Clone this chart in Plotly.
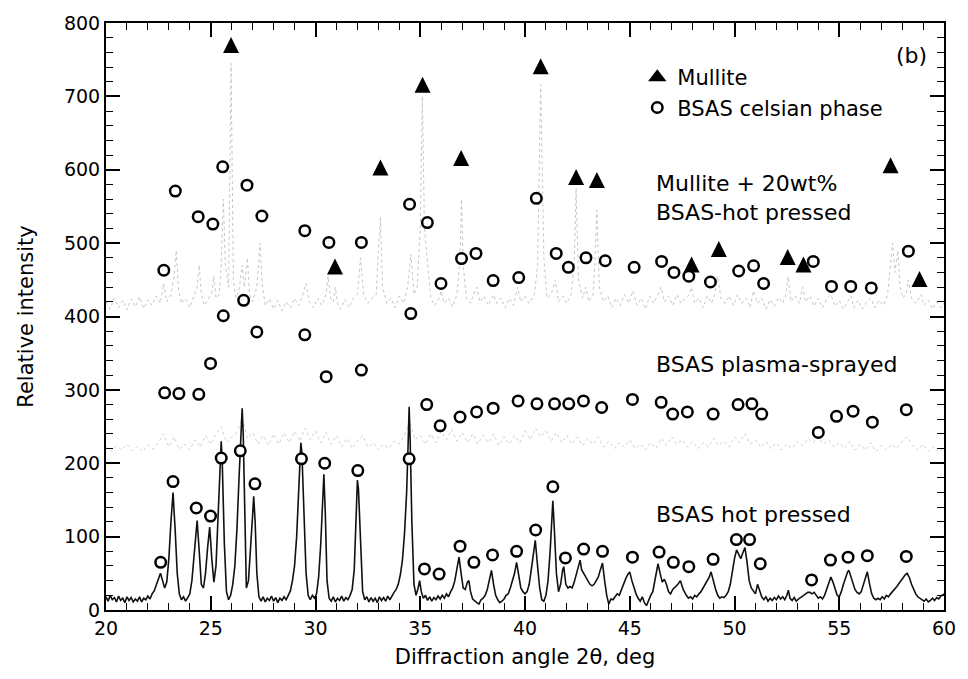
import plotly.graph_objects as go

FONT = "DejaVu Sans"

# --- XRD patterns: (2-theta [deg], relative intensity) -----------------------
# BSAS hot pressed (bottom trace)
hp_pattern = [
    (20.0, 18), (20.1, 12), (20.2, 20), (20.3, 14), (20.4, 17), (20.5, 11), (20.6, 19),
    (20.7, 13), (20.8, 16), (20.9, 10), (21.0, 18), (21.1, 13), (21.2, 17), (21.3, 11),
    (21.4, 15), (21.5, 12), (21.6, 18), (21.7, 11), (21.8, 16), (21.9, 14), (22.0, 19),
    (22.1, 15), (22.2, 22), (22.3, 26), (22.4, 34), (22.5, 42), (22.6, 50), (22.7, 40),
    (22.8, 30), (22.9, 38), (23.0, 70), (23.1, 120), (23.2, 160), (23.3, 110), (23.4, 50),
    (23.5, 22), (23.6, 14), (23.7, 18), (23.8, 12), (23.9, 17), (24.0, 22), (24.1, 40),
    (24.2, 75), (24.3, 110), (24.35, 122), (24.45, 80), (24.55, 35), (24.65, 30),
    (24.75, 50), (24.85, 85), (24.95, 113), (25.05, 70), (25.15, 38), (25.25, 60),
    (25.35, 120), (25.45, 190), (25.5, 230), (25.55, 200), (25.65, 90), (25.75, 25),
    (25.85, 14), (25.95, 20), (26.05, 35), (26.15, 60), (26.25, 110), (26.35, 180),
    (26.45, 250), (26.5, 275), (26.55, 240), (26.62, 120), (26.7, 30), (26.8, 40),
    (26.9, 80), (27.0, 130), (27.05, 155), (27.12, 120), (27.2, 50), (27.3, 18),
    (27.4, 12), (27.5, 18), (27.6, 11), (27.7, 16), (27.8, 13), (27.9, 19), (28.0, 12),
    (28.1, 17), (28.2, 10), (28.3, 16), (28.4, 13), (28.5, 18), (28.6, 14), (28.7, 20),
    (28.8, 26), (28.9, 40), (29.0, 60), (29.1, 100), (29.2, 160), (29.3, 228),
    (29.35, 215), (29.45, 130), (29.55, 50), (29.65, 20), (29.75, 14), (29.85, 20),
    (29.95, 16), (30.05, 22), (30.15, 45), (30.25, 90), (30.35, 160), (30.4, 185),
    (30.47, 130), (30.55, 40), (30.65, 16), (30.75, 12), (30.85, 18), (30.95, 11),
    (31.05, 16), (31.15, 13), (31.25, 19), (31.35, 12), (31.45, 17), (31.55, 14),
    (31.65, 20), (31.75, 28), (31.85, 55), (31.93, 110), (32.0, 177), (32.05, 165),
    (32.15, 80), (32.25, 25), (32.35, 14), (32.45, 18), (32.55, 11), (32.65, 17),
    (32.75, 12), (32.85, 16), (32.95, 10), (33.05, 18), (33.15, 13), (33.25, 17),
    (33.35, 12), (33.45, 19), (33.55, 14), (33.65, 20), (33.75, 24), (33.85, 28),
    (33.95, 35), (34.05, 48), (34.15, 68), (34.25, 105), (34.35, 160), (34.42, 225),
    (34.47, 277), (34.52, 230), (34.6, 120), (34.7, 35), (34.8, 20), (34.9, 30),
    (34.97, 40), (35.05, 25), (35.15, 16), (35.25, 20), (35.35, 13), (35.45, 18),
    (35.55, 12), (35.65, 17), (35.75, 14), (35.85, 19), (35.95, 15), (36.05, 20),
    (36.15, 16), (36.25, 22), (36.35, 18), (36.45, 25), (36.55, 30), (36.65, 40),
    (36.75, 55), (36.85, 72), (36.95, 50), (37.05, 30), (37.15, 28), (37.25, 38),
    (37.32, 40), (37.4, 25), (37.5, 15), (37.6, 12), (37.7, 10), (37.8, 8), (37.9, 14),
    (38.0, 16), (38.1, 20), (38.2, 28), (38.3, 40), (38.4, 54), (38.5, 35), (38.6, 20),
    (38.7, 14), (38.8, 10), (38.9, 12), (39.0, 15), (39.1, 20), (39.2, 22), (39.3, 30),
    (39.4, 40), (39.5, 50), (39.6, 65), (39.7, 45), (39.8, 30), (39.9, 25), (40.0, 22),
    (40.1, 25), (40.2, 35), (40.3, 55), (40.4, 75), (40.49, 95), (40.6, 60), (40.7, 30),
    (40.8, 14), (40.9, 12), (41.0, 20), (41.1, 40), (41.2, 80), (41.28, 130),
    (41.33, 149), (41.4, 110), (41.5, 50), (41.6, 25), (41.7, 35), (41.8, 55),
    (41.85, 59), (41.95, 35), (42.05, 30), (42.15, 32), (42.25, 30), (42.35, 38),
    (42.45, 50), (42.55, 60), (42.63, 68), (42.7, 55), (42.8, 50), (42.9, 45),
    (43.0, 40), (43.1, 35), (43.2, 33), (43.3, 35), (43.4, 40), (43.5, 45), (43.6, 55),
    (43.7, 64), (43.8, 40), (43.9, 20), (44.0, 8), (44.1, 15), (44.2, 14), (44.3, 18),
    (44.4, 22), (44.5, 20), (44.6, 28), (44.7, 35), (44.8, 42), (44.9, 48), (45.0, 52),
    (45.1, 40), (45.2, 30), (45.3, 22), (45.4, 16), (45.5, 12), (45.6, 18), (45.7, 10),
    (45.8, 6), (45.9, 14), (46.0, 20), (46.1, 25), (46.2, 40), (46.3, 55), (46.35, 63),
    (46.45, 50), (46.55, 38), (46.65, 42), (46.75, 35), (46.85, 25), (46.95, 22),
    (47.05, 28), (47.2, 32), (47.3, 35), (47.42, 40), (47.55, 28), (47.7, 20),
    (47.8, 16), (47.9, 18), (48.0, 15), (48.1, 20), (48.2, 18), (48.3, 22), (48.4, 25),
    (48.5, 30), (48.6, 35), (48.7, 40), (48.8, 45), (48.88, 52), (49.0, 38), (49.1, 28),
    (49.2, 20), (49.3, 16), (49.4, 18), (49.5, 17), (49.6, 20), (49.7, 25), (49.8, 35),
    (49.9, 55), (50.0, 70), (50.1, 82), (50.2, 75), (50.3, 70), (50.4, 78), (50.5, 85),
    (50.6, 65), (50.7, 40), (50.8, 30), (50.9, 25), (51.0, 22), (51.1, 35), (51.2, 25),
    (51.3, 18), (51.4, 14), (51.5, 18), (51.6, 12), (51.7, 16), (51.8, 13), (51.9, 17),
    (52.0, 14), (52.1, 19), (52.2, 15), (52.3, 18), (52.4, 14), (52.5, 20), (52.57, 27),
    (52.65, 16), (52.75, 13), (52.85, 17), (52.95, 12), (53.05, 15), (53.2, 18),
    (53.3, 20), (53.4, 22), (53.5, 24), (53.6, 24), (53.7, 22), (53.8, 24), (53.9, 20),
    (54.0, 16), (54.1, 18), (54.2, 15), (54.3, 20), (54.4, 28), (54.5, 38), (54.6, 45),
    (54.7, 38), (54.8, 28), (54.9, 20), (55.0, 18), (55.1, 25), (55.2, 35), (55.3, 45),
    (55.4, 52), (55.46, 54), (55.55, 45), (55.65, 35), (55.75, 28), (55.85, 24),
    (55.95, 22), (56.05, 25), (56.15, 35), (56.25, 45), (56.34, 52), (56.45, 35),
    (56.55, 22), (56.65, 16), (56.75, 14), (56.85, 16), (56.95, 14), (57.05, 18),
    (57.15, 15), (57.25, 20), (57.35, 18), (57.45, 22), (57.55, 25), (57.65, 28),
    (57.75, 32), (57.85, 36), (57.95, 40), (58.05, 45), (58.15, 48), (58.24, 50),
    (58.35, 44), (58.45, 35), (58.55, 28), (58.65, 22), (58.75, 18), (58.85, 16),
    (58.95, 14), (59.05, 12), (59.15, 15), (59.25, 11), (59.35, 13), (59.45, 16),
    (59.55, 13), (59.65, 17), (59.75, 15), (59.85, 19), (60.0, 22),
]

# BSAS plasma-sprayed (middle trace)
ps_pattern = [
    (20.0, 222), (20.25, 216), (20.5, 224), (20.75, 218), (21.0, 226), (21.25, 217),
    (21.5, 223), (21.75, 216), (22.0, 225), (22.25, 219), (22.5, 228), (22.75, 240),
    (23.0, 222), (23.25, 236), (23.5, 219), (23.75, 226), (24.0, 218), (24.25, 232),
    (24.5, 222), (24.75, 238), (25.0, 226), (25.25, 240), (25.5, 250), (25.75, 228),
    (26.0, 236), (26.25, 242), (26.5, 262), (26.75, 234), (27.0, 242), (27.25, 226),
    (27.5, 238), (27.75, 224), (28.0, 240), (28.25, 226), (28.5, 242), (28.75, 228),
    (29.0, 244), (29.25, 230), (29.5, 248), (29.75, 232), (30.0, 244), (30.25, 228),
    (30.5, 242), (30.75, 226), (31.0, 238), (31.25, 222), (31.5, 234), (31.75, 220),
    (32.0, 230), (32.25, 238), (32.5, 222), (32.75, 228), (33.0, 218), (33.25, 226),
    (33.5, 220), (33.75, 230), (34.0, 226), (34.25, 238), (34.5, 258), (34.75, 232),
    (35.0, 238), (35.25, 226), (35.5, 240), (35.75, 228), (36.0, 244), (36.25, 232),
    (36.5, 246), (36.75, 230), (37.0, 242), (37.25, 228), (37.5, 240), (37.75, 226),
    (38.0, 238), (38.25, 228), (38.5, 240), (38.75, 224), (39.0, 236), (39.25, 226),
    (39.5, 238), (39.75, 228), (40.0, 244), (40.25, 232), (40.5, 248), (40.75, 236),
    (41.0, 244), (41.25, 230), (41.5, 242), (41.75, 228), (42.0, 238), (42.25, 226),
    (42.5, 236), (42.75, 224), (43.0, 234), (43.25, 226), (43.5, 236), (43.75, 222),
    (44.0, 230), (44.25, 220), (44.5, 228), (44.75, 222), (45.0, 232), (45.25, 220),
    (45.5, 226), (45.75, 218), (46.0, 228), (46.25, 220), (46.5, 234), (46.75, 224),
    (47.0, 236), (47.25, 226), (47.5, 232), (47.75, 222), (48.0, 230), (48.25, 220),
    (48.5, 228), (48.75, 222), (49.0, 234), (49.25, 224), (49.5, 230), (49.75, 222),
    (50.0, 236), (50.25, 228), (50.5, 240), (50.75, 226), (51.0, 232), (51.25, 222),
    (51.5, 230), (51.75, 220), (52.0, 228), (52.25, 218), (52.5, 226), (52.75, 220),
    (53.0, 230), (53.25, 224), (53.5, 234), (53.75, 228), (54.0, 236), (54.25, 226),
    (54.5, 232), (54.75, 222), (55.0, 228), (55.25, 220), (55.5, 230), (55.75, 218),
    (56.0, 226), (56.25, 218), (56.5, 228), (56.75, 216), (57.0, 224), (57.25, 218),
    (57.5, 226), (57.75, 220), (58.0, 230), (58.25, 236), (58.5, 224), (58.75, 218),
    (59.0, 226), (59.25, 216), (59.5, 222), (59.75, 215), (60.0, 220),
]

# Mullite + 20wt% BSAS hot pressed (top trace)
mix_pattern = [
    (20.0, 420), (20.2, 410), (20.4, 425), (20.6, 412), (20.8, 422), (21.0, 409),
    (21.2, 424), (21.4, 413), (21.6, 427), (21.8, 411), (22.0, 423), (22.2, 415),
    (22.4, 428), (22.6, 418), (22.75, 445), (22.9, 420), (23.1, 430), (23.25, 455),
    (23.35, 490), (23.45, 440), (23.6, 418), (23.8, 425), (24.0, 412), (24.2, 428),
    (24.35, 440), (24.45, 470), (24.55, 430), (24.7, 415), (24.9, 425), (25.05, 432),
    (25.15, 455), (25.25, 425), (25.4, 430), (25.5, 470), (25.6, 560), (25.7, 470),
    (25.85, 440), (25.97, 745), (26.08, 450), (26.2, 425), (26.35, 435), (26.5, 470),
    (26.6, 440), (26.75, 480), (26.85, 430), (27.0, 420), (27.2, 440), (27.35, 500),
    (27.45, 445), (27.6, 415), (27.8, 424), (28.0, 410), (28.2, 422), (28.4, 408),
    (28.6, 420), (28.8, 412), (29.0, 425), (29.2, 415), (29.4, 430), (29.55, 445),
    (29.7, 420), (29.9, 412), (30.1, 425), (30.3, 415), (30.5, 430), (30.6, 455),
    (30.72, 425), (30.85, 420), (30.95, 440), (31.05, 418), (31.2, 410), (31.4, 423),
    (31.6, 412), (31.8, 425), (32.0, 430), (32.15, 480), (32.3, 430), (32.5, 418),
    (32.7, 425), (32.9, 430), (33.0, 490), (33.1, 535), (33.2, 440), (33.4, 418),
    (33.6, 425), (33.8, 412), (34.0, 428), (34.2, 418), (34.4, 440), (34.55, 485),
    (34.7, 430), (34.85, 440), (35.0, 520), (35.1, 700), (35.2, 520), (35.35, 470),
    (35.5, 425), (35.7, 415), (35.9, 425), (36.0, 435), (36.15, 418), (36.35, 425),
    (36.55, 413), (36.75, 430), (36.9, 480), (36.97, 560), (37.05, 470), (37.2, 425),
    (37.4, 418), (37.55, 430), (37.7, 440), (37.85, 420), (38.05, 428), (38.25, 415),
    (38.5, 430), (38.65, 418), (38.85, 425), (39.05, 412), (39.25, 425), (39.45, 415),
    (39.65, 440), (39.8, 420), (40.0, 428), (40.2, 418), (40.45, 430), (40.6, 470),
    (40.75, 716), (40.9, 480), (41.05, 425), (41.25, 430), (41.45, 450), (41.6, 420),
    (41.8, 428), (42.0, 418), (42.2, 430), (42.35, 470), (42.44, 575), (42.55, 450),
    (42.75, 425), (42.9, 440), (43.05, 420), (43.25, 430), (43.35, 480), (43.43, 545),
    (43.55, 440), (43.75, 420), (43.95, 428), (44.15, 412), (44.35, 425), (44.55, 415),
    (44.75, 430), (44.95, 418), (45.15, 435), (45.35, 415), (45.55, 425), (45.75, 410),
    (45.95, 428), (46.15, 418), (46.35, 430), (46.5, 440), (46.65, 420), (46.85, 428),
    (47.05, 415), (47.25, 430), (47.45, 418), (47.65, 425), (47.85, 430), (47.95, 440),
    (48.1, 418), (48.3, 425), (48.5, 412), (48.7, 428), (48.9, 418), (49.05, 430),
    (49.2, 455), (49.35, 425), (49.55, 418), (49.75, 428), (49.95, 415), (50.15, 430),
    (50.35, 418), (50.55, 425), (50.75, 412), (50.9, 435), (51.1, 418), (51.3, 425),
    (51.5, 410), (51.7, 423), (51.9, 414), (52.1, 426), (52.3, 418), (52.45, 430),
    (52.55, 455), (52.7, 420), (52.9, 428), (53.1, 418), (53.25, 440), (53.4, 420),
    (53.6, 428), (53.8, 414), (54.0, 425), (54.2, 412), (54.4, 424), (54.6, 430),
    (54.8, 414), (55.0, 422), (55.2, 410), (55.4, 420), (55.55, 428), (55.7, 412),
    (55.9, 422), (56.1, 410), (56.3, 420), (56.5, 425), (56.7, 412), (56.9, 422),
    (57.1, 415), (57.3, 428), (57.45, 470), (57.55, 500), (57.65, 460), (57.8, 490),
    (57.9, 440), (58.05, 425), (58.2, 432), (58.3, 450), (58.45, 425), (58.65, 418),
    (58.8, 425), (58.9, 430), (59.05, 415), (59.25, 422), (59.45, 410), (59.65, 420),
    (59.85, 412), (60.0, 418),
]

# --- Phase identification markers ---------------------------------------------
mullite_2theta = [25.97, 30.93, 33.10, 35.11, 36.95, 40.75, 42.44, 43.43,
                  47.95, 49.25, 52.54, 53.29, 57.45, 58.83]
mullite_int = [770, 468, 603, 716, 616, 741, 590, 586, 471, 492, 481, 471, 606, 451]

celsian_mix_2theta = [22.76, 23.31, 24.40, 25.10, 25.57, 26.73, 27.44, 29.49, 30.64,
                      32.19, 34.49, 35.34, 35.99, 36.97, 37.66, 38.48, 39.70, 40.54,
                      41.49, 42.07, 42.91, 43.83, 45.21, 46.52, 47.11, 47.82, 48.85,
                      50.20, 50.91, 51.39, 53.76, 54.63, 55.55, 56.53, 58.30]
celsian_mix_int = [463, 571, 536, 526, 604, 579, 537, 517, 501, 501, 553, 528, 445,
                   479, 486, 449, 453, 561, 486, 467, 480, 476, 467, 475, 460, 455,
                   447, 462, 469, 445, 475, 441, 441, 439, 489]

celsian_ps_2theta = [22.80, 23.48, 24.43, 24.99, 25.60, 26.57, 27.20, 29.49, 30.51,
                     32.19, 34.55, 35.31, 35.95, 36.90, 37.69, 38.48, 39.67, 40.57,
                     41.41, 42.09, 42.79, 43.66, 45.13, 46.50, 47.05, 47.75, 48.98,
                     50.17, 50.83, 51.30, 54.00, 54.87, 55.66, 56.58, 58.20]
celsian_ps_int = [296, 295, 294, 336, 401, 422, 379, 375, 318, 327, 404, 280, 251,
                  263, 270, 275, 285, 281, 281, 281, 285, 276, 287, 283, 267, 270,
                  267, 280, 281, 267, 242, 264, 271, 256, 273]

celsian_hp_2theta = [22.61, 23.20, 24.31, 24.99, 25.50, 26.41, 27.11, 29.33, 30.44,
                     32.02, 34.47, 35.20, 35.90, 36.90, 37.56, 38.45, 39.60, 40.51,
                     41.33, 41.93, 42.80, 43.70, 45.13, 46.40, 47.08, 47.82, 48.98,
                     50.09, 50.72, 51.23, 53.68, 54.58, 55.42, 56.34, 58.20]
celsian_hp_int = [65, 175, 139, 128, 207, 217, 172, 206, 200, 190, 206, 56, 49, 87,
                  65, 75, 80, 109, 168, 71, 83, 80, 72, 79, 65, 59, 69, 96, 96, 63,
                  41, 68, 72, 74, 73]

# --- Labels ---------------------------------------------------------------------
panel_tag = "(b)"
label_mix = "Mullite + 20wt%<br>BSAS-hot pressed"
label_ps = "BSAS plasma-sprayed"
label_hp = "BSAS hot pressed"


def unzip(pairs):
    return [p[0] for p in pairs], [p[1] for p in pairs]


fig = go.Figure()

mx, my = unzip(mix_pattern)
fig.add_trace(go.Scatter(x=mx, y=my, mode="lines", showlegend=False, hoverinfo="skip",
                         line=dict(color="#c6c6c6", width=1.0, dash="dot")))
px_, py_ = unzip(ps_pattern)
fig.add_trace(go.Scatter(x=px_, y=py_, mode="lines", showlegend=False, hoverinfo="skip",
                         line=dict(color="#d0d0d0", width=1.0, dash="dot")))
hx, hy = unzip(hp_pattern)
fig.add_trace(go.Scatter(x=hx, y=hy, mode="lines", showlegend=False, hoverinfo="skip",
                         line=dict(color="#111111", width=1.6)))

# Filled up-pointing triangles centred on each point: a down arrow turned by
# 180 degrees and pushed back by half its height.
fig.add_trace(go.Scatter(
    x=mullite_2theta, y=mullite_int, mode="markers", name="Mullite",
    showlegend=False,
    marker=dict(symbol="arrow-down", angle=180, size=16, standoff=8, color="black",
                line=dict(width=0))))
# Legend key for the mullite peaks (no data of its own)
fig.add_trace(go.Scatter(
    x=[None], y=[None], mode="markers", name="Mullite",
    marker=dict(symbol="triangle-up", size=16, color="black", line=dict(width=0))))

circle_marker = dict(symbol="circle", size=10.5, color="white",
                     line=dict(color="black", width=2.5))
for i, (cx, cy) in enumerate([(celsian_mix_2theta, celsian_mix_int),
                              (celsian_ps_2theta, celsian_ps_int),
                              (celsian_hp_2theta, celsian_hp_int)]):
    fig.add_trace(go.Scatter(x=cx, y=cy, mode="markers", name="BSAS celsian phase",
                             legendgroup="celsian", showlegend=(i == 0),
                             marker=circle_marker))

text_font = dict(family=FONT, size=22, color="black")
fig.add_annotation(x=59.3, y=756, text=panel_tag, showarrow=False,
                   xanchor="right", yanchor="middle", font=text_font)
fig.add_annotation(x=46.15, y=561, text=label_mix, showarrow=False, align="left",
                   xanchor="left", yanchor="middle", font=text_font)
fig.add_annotation(x=46.15, y=334, text=label_ps, showarrow=False,
                   xanchor="left", yanchor="middle", font=text_font)
fig.add_annotation(x=46.15, y=130, text=label_hp, showarrow=False,
                   xanchor="left", yanchor="middle", font=text_font)

axis_common = dict(
    showgrid=False, zeroline=False, showline=True, linecolor="black", linewidth=2,
    mirror="allticks", ticks="inside", ticklen=14, tickwidth=1.5, tickcolor="black",
    tickfont=dict(family=FONT, size=19, color="black"),
)
fig.update_xaxes(range=[20, 60], tick0=20, dtick=5,
                 minor=dict(dtick=1, ticks="inside", ticklen=7, tickwidth=1.2,
                            tickcolor="black", showgrid=False),
                 title=dict(text="Diffraction angle 2θ, deg",
                            font=dict(family=FONT, size=21, color="black"), standoff=12),
                 **axis_common)
fig.update_yaxes(range=[0, 800], tick0=0, dtick=100,
                 minor=dict(dtick=20, ticks="inside", ticklen=7, tickwidth=1.2,
                            tickcolor="black", showgrid=False),
                 title=dict(text="Relative intensity",
                            font=dict(family=FONT, size=21, color="black"), standoff=25),
                 **axis_common)

fig.update_layout(
    width=968, height=679,
    margin=dict(l=106, r=20, t=18, b=69),
    paper_bgcolor="white", plot_bgcolor="white",
    font=dict(family=FONT, color="black"),
    legend=dict(x=0.634, y=0.942, xanchor="left", yanchor="top",
                bgcolor="rgba(0,0,0,0)", borderwidth=0,
                font=dict(family=FONT, size=21, color="black"),
                tracegroupgap=0, itemsizing="trace"),
)

fig.write_html("out.html")
